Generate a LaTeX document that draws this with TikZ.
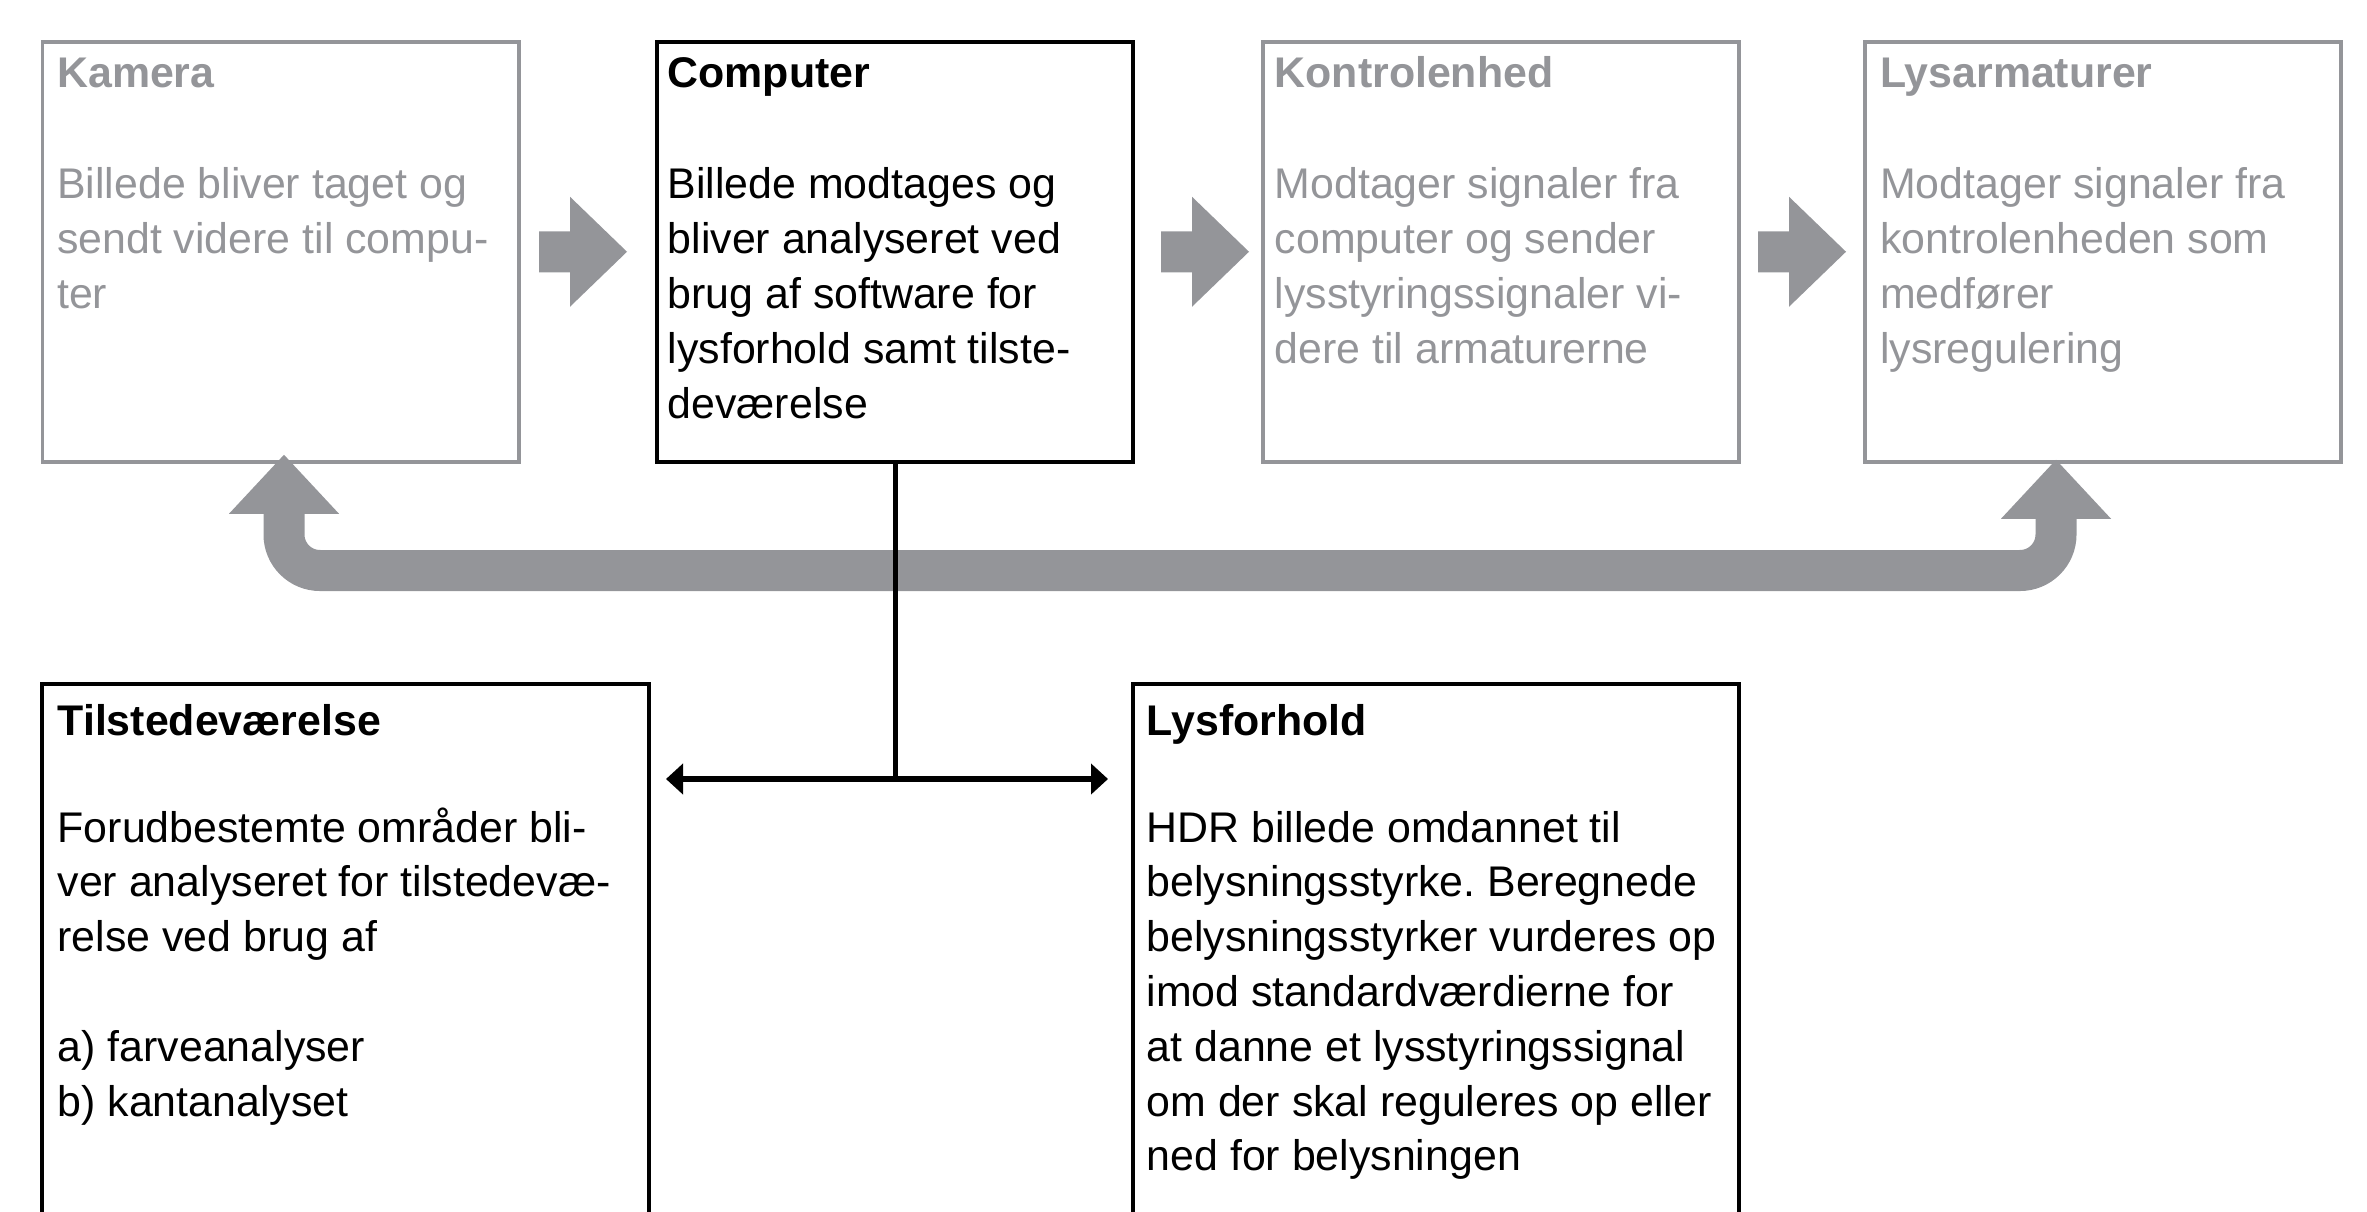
\documentclass[tikz,border=0pt]{standalone}
\usepackage{fontspec}
\setmainfont{Liberation Sans}
\usetikzlibrary{arrows.meta}
\frenchspacing
\newcommand{\boxlines}[1]{\begin{tabular}[t]{@{}l@{}}#1\end{tabular}}

\begin{document}
\begin{tikzpicture}[
  graybox/.style={shape=rectangle,draw=lys_gray,line width=0.04cm,inner sep=0,minimum width=4.76cm,minimum height=4.2cm},
  blackbox/.style={graybox,draw=black},
  lowbox/.style={shape=rectangle,draw=black,line width=0.04cm,inner sep=0,minimum width=6.07cm,minimum height=6cm},
  headtext/.style={anchor=base west,inner sep=0,font=\fontsize{12.2}{15.6}\selectfont\bfseries},
  bodytext/.style={anchor=base west,inner sep=0,font=\fontsize{12.2}{15.6}\selectfont}
]
\definecolor{lys_gray}{RGB}{148,149,153}
\useasboundingbox (0,0) rectangle (23.67,12.11);
\clip (0,0) rectangle (23.67,12.11);
% top row
\node[graybox] (kamera) at (2.805,9.5925) {};
\node[blackbox] (computer) at (8.95,9.5925) {};
\node[graybox] (kontrol) at (15.01,9.5925) {};
\node[graybox] (lysarm) at (21.025,9.5925) {};
\node[headtext,text=lys_gray] (kameraT) at ([shift={(0.16,-0.48)}]kamera.north west) {Kamera};
\node[bodytext,text=lys_gray] (kameraB) at ([shift={(0.16,-1.59)}]kamera.north west) {\boxlines{Billede bliver taget og\\sendt videre til compu-\\ter}};
\node[headtext] (computerT) at ([shift={(0.12,-0.48)}]computer.north west) {Computer};
\node[bodytext] (computerB) at ([shift={(0.12,-1.59)}]computer.north west) {\boxlines{Billede modtages og\\bliver analyseret ved\\brug af software for\\lysforhold samt tilste-\\deværelse}};
\node[headtext,text=lys_gray] (kontrolT) at ([shift={(0.13,-0.48)}]kontrol.north west) {Kontrolenhed};
\node[bodytext,text=lys_gray] (kontrolB) at ([shift={(0.13,-1.59)}]kontrol.north west) {\boxlines{Modtager signaler fra\\computer og sender\\lysstyringssignaler vi-\\dere til armaturerne}};
\node[headtext,text=lys_gray] (lysarmT) at ([shift={(0.17,-0.48)}]lysarm.north west) {Lysarmaturer};
\node[bodytext,text=lys_gray] (lysarmB) at ([shift={(0.17,-1.59)}]lysarm.north west) {\boxlines{Modtager signaler fra\\kontrolenheden som\\medfører\\lysregulering}};
% bottom row
\node[lowbox] (tilst) at (3.455,2.27) {};
\node[lowbox,minimum width=6.06cm] (lysfor) at (14.36,2.27) {};
\node[headtext] (tilstT) at ([shift={(0.17,-0.53)}]tilst.north west) {Tilstedeværelse};
\node[bodytext] (tilstB) at ([shift={(0.17,-1.60)}]tilst.north west) {\boxlines{Forudbestemte områder bli-\\ver analyseret for tilstedevæ-\\relse ved brug af\\[15.6pt]a) farveanalyser\\b) kantanalyset}};
\node[headtext] (lysforT) at ([shift={(0.15,-0.53)}]lysfor.north west) {Lysforhold};
\node[bodytext] (lysforB) at ([shift={(0.15,-1.60)}]lysfor.north west) {\boxlines{HDR billede omdannet til\\belysningsstyrke. Beregnede\\belysningsstyrker vurderes op\\imod standardværdierne for\\at danne et lysstyringssignal\\om der skal reguleres op eller\\ned for belysningen}};
% gray block arrows
\foreach \from/\gap in {kamera/0.185,computer/0.26,kontrol/0.17}
  \fill[lys_gray] ([xshift=\gap cm]\from.east) ++(0,0.205) -- ++(0.31,0) -- ++(0,0.345) -- ++(0.57,-0.55) -- ++(-0.57,-0.55) -- ++(0,0.345) -- ++(-0.31,0) -- cycle;
% feedback band
\coordinate (camtip) at ([xshift=0.035cm,yshift=0.09cm]kamera.south);
\coordinate (lystip) at ([xshift=-0.465cm,yshift=0.04cm]lysarm.south);
\coordinate (bandy) at (0,6.405);
\draw[lys_gray,line width=0.41cm,rounded corners=0.36cm] ([yshift=-0.57cm]camtip) -- (camtip |- bandy) -- (lystip |- bandy) -- ([yshift=-0.57cm]lystip);
\fill[lys_gray] (camtip) -- ++(-0.55,-0.59) -- ++(1.1,0) -- cycle;
\fill[lys_gray] (lystip) -- ++(-0.55,-0.59) -- ++(1.1,0) -- cycle;
% computer to analyses
\coordinate (fork) at (computer.south |- 0,4.32);
\coordinate (tleft) at ([xshift=0.15cm]tilst.east);
\coordinate (tright) at ([xshift=-0.23cm]lysfor.west);
\draw[line width=0.05cm] (computer.south) -- (fork);
\draw[line width=0.06cm,-{Triangle[length=0.17cm,width=0.3cm]}] (fork) -- (tleft |- fork);
\draw[line width=0.06cm,-{Triangle[length=0.17cm,width=0.3cm]}] (fork) -- (tright |- fork);
\end{tikzpicture}
\end{document}
